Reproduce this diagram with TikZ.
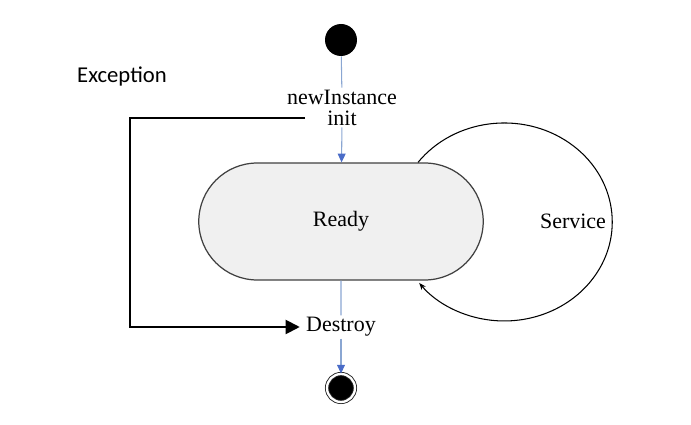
\documentclass[tikz,border=0pt]{standalone}
\usepackage{fontspec}
\setmainfont{Liberation Serif}
\newfontfamily\calibrifont{Carlito}
\usetikzlibrary{shapes.misc, positioning, calc, arrows.meta}

\begin{document}
\begin{tikzpicture}[x=0.02cm, y=-0.02cm]
% --- CICLO DE VIDA: ESTADOS, ROTULOS E SETAS ---
\definecolor{fio}{HTML}{8AA6D2}
\definecolor{ponta}{HTML}{4A6CC8}
\definecolor{fundo}{HTML}{F0F0F0}
\tikzset{
  rotulo/.style={font=\fontsize{12.5}{15}\selectfont, inner sep=1pt},
  fluxo/.style={draw=fio, line width=0.6pt},
  seta/.style={fluxo, -{Triangle[length=5pt, width=4.5pt, fill=ponta, color=ponta]}},
  excecao/.style={line width=1.1pt, shorten >=2.5pt, -{Triangle[length=8pt, width=8pt]}}
}
\useasboundingbox (0,0) rectangle (691,425);

% LAYER 1: Inicio e fim
\node[circle, fill=black, minimum size=0.64cm, inner sep=0pt] (start) at (341,40) {};
\node[circle, fill=black, draw=black!85, line width=0.5pt, double=white, double distance=1.3pt, minimum size=0.56cm, inner sep=0pt] (stop) at (341,388) {};

% LAYER 2: Estado Ready
\node[rounded rectangle, draw=black!75, line width=0.7pt, fill=fundo, minimum width=5.76cm, minimum height=2.34cm, rotulo] (ready) at (341,221.5) {Ready};

% LAYER 3: Rotulos das transicoes
\node[rotulo] (newinst) at (342,97) {newInstance};
\node[rotulo] (init) at (342,118) {init};
\node[rotulo] (destroy) at (341,327) {Destroy};
\node[rotulo] (service) at (573,221) {Service};
\node[font=\calibrifont\fontsize{12.9}{15}\selectfont, inner sep=0pt] (exception) at (122,76) {Exception};

% LAYER 4: Setas
\draw[fluxo] (start) -- (newinst);
\draw[seta] (init) -- (ready);
\draw[fluxo] (ready) -- (destroy);
\draw[seta] (destroy) -- (stop);
\draw[line width=0.6pt, -{Stealth[length=4pt, width=3pt]}] ($(ready.north)+(77,0)$)
  arc[start angle=-143, end angle=142, x radius=108, y radius=99];

% LAYER 5: Excecao
\coordinate (exc) at (305,118);
\draw[excecao] (exc) -- (130,118) |- (destroy.west);
\end{tikzpicture}
\end{document}
